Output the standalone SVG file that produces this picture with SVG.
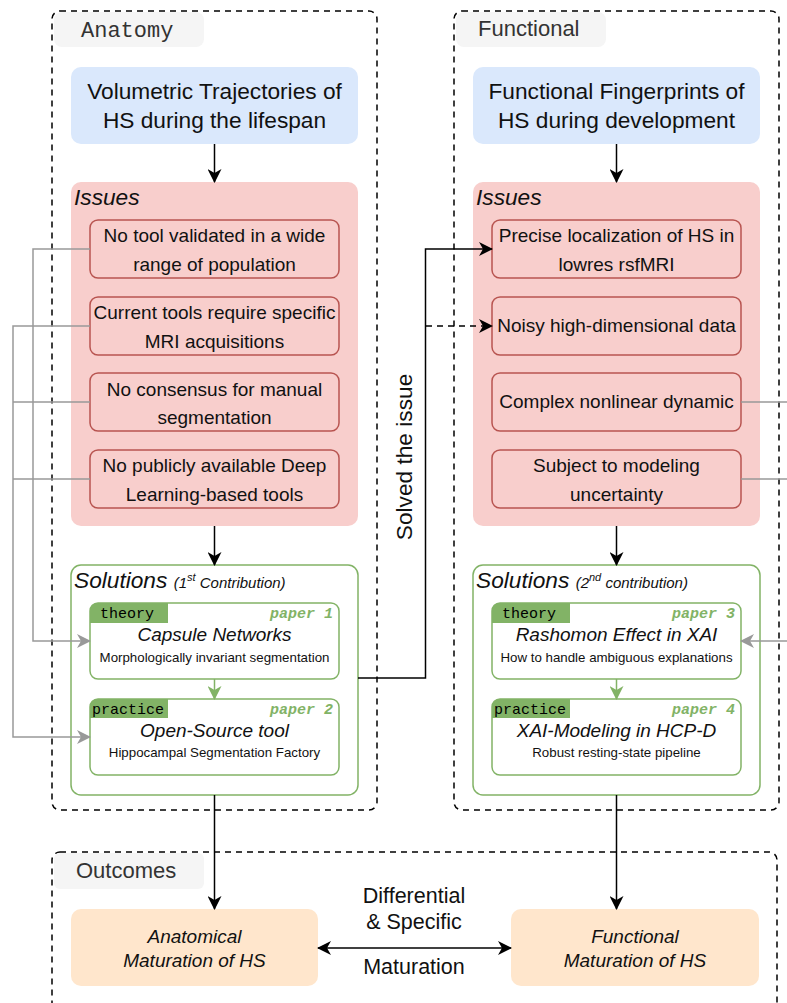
<svg xmlns="http://www.w3.org/2000/svg" width="787" height="1003" viewBox="0 0 787 1003">
  <style>
    .sans { font-family: "Liberation Sans", Arial, sans-serif; }
    .mono { font-family: "Liberation Mono", "Courier New", monospace; }
    .container { fill: none; stroke: #000; stroke-width: 1.5; stroke-dasharray: 6 5; }
    .tab { fill: #f5f5f5; }
    .tabtext { font-size: 22px; fill: #333; }
    .topic { fill: #dae8fc; }
    .issues { fill: #f8cecc; }
    .issue { fill: #f8cecc; stroke: #b85450; stroke-width: 1.5; }
    .sol { fill: #fff; stroke: #82b366; stroke-width: 1.5; }
    .tag { fill: #82b366; }
    .tagtext { font-size: 15px; fill: #000; }
    .paper { font-size: 15px; font-weight: bold; font-style: italic; fill: #82b366; }
    .outcome { fill: #ffe6cc; }
    .big { font-size: 22.7px; fill: #111; }
    .label { font-size: 21.5px; fill: #111; }
    .mid { font-size: 19px; fill: #111; }
    .small { font-size: 13.3px; fill: #111; }
    .it { font-style: italic; }
    .c { text-anchor: middle; }
    .link { fill: none; stroke: #000; stroke-width: 1.5; }
    .glink { fill: none; stroke: #999; stroke-width: 1.5; }
    .greenlink { fill: none; stroke: #82b366; stroke-width: 1.5; }
  </style>
  <defs>
    <marker id="arrow" markerUnits="userSpaceOnUse" viewBox="0 0 14 14" markerWidth="14" markerHeight="14" refX="13" refY="7" orient="auto-start-reverse">
      <path d="M0,0 L14,7 L0,14 L4,7 Z" fill="#000"/>
    </marker>
    <marker id="arrow-gray" markerUnits="userSpaceOnUse" viewBox="0 0 14 14" markerWidth="14" markerHeight="14" refX="13" refY="7" orient="auto">
      <path d="M0,0 L14,7 L0,14 L4,7 Z" fill="#999"/>
    </marker>
    <marker id="arrow-green" markerUnits="userSpaceOnUse" viewBox="0 0 14 14" markerWidth="14" markerHeight="14" refX="13" refY="7" orient="auto">
      <path d="M0,0 L14,7 L0,14 L4,7 Z" fill="#82b366"/>
    </marker>
  </defs>

  <!-- containers -->
  <g id="anatomy-container">
    <rect class="container" x="52" y="11" width="325" height="799" rx="8"/>
    <rect class="tab" x="54" y="12" width="150" height="35" rx="8"/>
    <text class="mono tabtext" x="81" y="37">Anatomy</text>
  </g>
  <g id="functional-container">
    <rect class="container" x="454" y="11" width="325" height="799" rx="8"/>
    <rect class="tab" x="456" y="12" width="150" height="35" rx="8"/>
    <text class="sans tabtext" x="478" y="36">Functional</text>
  </g>
  <g id="outcomes-container">
    <rect class="container" x="52" y="852" width="725" height="170" rx="8"/>
    <rect class="tab" x="54" y="853" width="150" height="36" rx="6"/>
    <text class="sans tabtext" x="76" y="878">Outcomes</text>
  </g>

  <!-- topics -->
  <g id="topic-anatomy">
    <rect class="topic" x="71" y="67" width="287" height="77" rx="10"/>
    <text class="sans big c" x="214.5" y="99">Volumetric Trajectories of</text>
    <text class="sans big c" x="214.5" y="128">HS during the lifespan</text>
  </g>
  <g id="topic-functional">
    <rect class="topic" x="473" y="67" width="287" height="77" rx="10"/>
    <text class="sans big c" x="616.5" y="99">Functional Fingerprints of</text>
    <text class="sans big c" x="616.5" y="128">HS during development</text>
  </g>

  <!-- issue groups -->
  <g id="issues-anatomy">
    <rect class="issues" x="71" y="182" width="287" height="344" rx="10"/>
    <text class="sans big it" x="74" y="205">Issues</text>
  </g>
  <g id="issues-functional">
    <rect class="issues" x="473" y="182" width="287" height="344" rx="10"/>
    <text class="sans big it" x="476" y="205">Issues</text>
  </g>

  <g id="issue-a1">
    <rect class="issue" x="90" y="220" width="249" height="58" rx="8"/>
    <text class="sans mid c" x="214.5" y="242">No tool validated in a wide</text>
    <text class="sans mid c" x="214.5" y="271">range of population</text>
  </g>
  <g id="issue-a2">
    <rect class="issue" x="90" y="297" width="249" height="58" rx="8"/>
    <text class="sans mid c" x="214.5" y="319">Current tools require specific</text>
    <text class="sans mid c" x="214.5" y="348">MRI acquisitions</text>
  </g>
  <g id="issue-a3">
    <rect class="issue" x="90" y="373" width="249" height="58" rx="8"/>
    <text class="sans mid c" x="214.5" y="396">No consensus for manual</text>
    <text class="sans mid c" x="214.5" y="424">segmentation</text>
  </g>
  <g id="issue-a4">
    <rect class="issue" x="90" y="450" width="249" height="58" rx="8"/>
    <text class="sans mid c" x="214.5" y="472">No publicly available Deep</text>
    <text class="sans mid c" x="214.5" y="501">Learning-based tools</text>
  </g>

  <g id="issue-f1">
    <rect class="issue" x="492" y="220" width="249" height="58" rx="8"/>
    <text class="sans mid c" x="616.5" y="242">Precise localization of HS in</text>
    <text class="sans mid c" x="616.5" y="271">lowres rsfMRI</text>
  </g>
  <g id="issue-f2">
    <rect class="issue" x="492" y="297" width="249" height="58" rx="8"/>
    <text class="sans mid c" x="616.5" y="332">Noisy high-dimensional data</text>
  </g>
  <g id="issue-f3">
    <rect class="issue" x="492" y="373" width="249" height="58" rx="8"/>
    <text class="sans mid c" x="616.5" y="408">Complex nonlinear dynamic</text>
  </g>
  <g id="issue-f4">
    <rect class="issue" x="492" y="450" width="249" height="58" rx="8"/>
    <text class="sans mid c" x="616.5" y="472">Subject to modeling</text>
    <text class="sans mid c" x="616.5" y="501">uncertainty</text>
  </g>

  <!-- solution groups -->
  <g id="solutions-anatomy">
    <rect class="sol" x="71" y="565" width="287" height="230" rx="10"/>
    <text class="sans it" x="74" y="588"><tspan class="big">Solutions </tspan><tspan font-size="15px" fill="#111">(1</tspan><tspan font-size="11px" fill="#111" dy="-7">st</tspan><tspan font-size="15px" fill="#111" dy="7"> Contribution)</tspan></text>
  </g>
  <g id="solutions-functional">
    <rect class="sol" x="473" y="565" width="287" height="230" rx="10"/>
    <text class="sans it" x="476" y="588"><tspan class="big">Solutions </tspan><tspan font-size="15px" fill="#111">(2</tspan><tspan font-size="11px" fill="#111" dy="-7">nd</tspan><tspan font-size="15px" fill="#111" dy="7"> contribution)</tspan></text>
  </g>

  <g id="paper-1">
    <rect class="sol" x="90" y="603" width="249" height="76" rx="8"/>
    <path class="tag" d="M90,623 V611 A8,8 0 0 1 98,603 H168 V623 Z"/>
    <text class="mono tagtext" x="100" y="618">theory</text>
    <text class="mono paper" x="333" y="618" text-anchor="end">paper 1</text>
    <text class="sans mid it c" x="214.5" y="641">Capsule Networks</text>
    <text class="sans small c" x="214.5" y="662">Morphologically invariant segmentation</text>
  </g>
  <g id="paper-2">
    <rect class="sol" x="90" y="699" width="249" height="76" rx="8"/>
    <path class="tag" d="M90,718 V707 A8,8 0 0 1 98,699 H168 V718 Z"/>
    <text class="mono tagtext" x="92" y="714">practice</text>
    <text class="mono paper" x="333" y="714" text-anchor="end">paper 2</text>
    <text class="sans mid it c" x="214.5" y="737">Open-Source tool</text>
    <text class="sans small c" x="214.5" y="757">Hippocampal Segmentation Factory</text>
  </g>
  <g id="paper-3">
    <rect class="sol" x="492" y="603" width="249" height="76" rx="8"/>
    <path class="tag" d="M492,623 V611 A8,8 0 0 1 500,603 H570 V623 Z"/>
    <text class="mono tagtext" x="502" y="618">theory</text>
    <text class="mono paper" x="735" y="618" text-anchor="end">paper 3</text>
    <text class="sans mid it c" x="616.5" y="641">Rashomon Effect in XAI</text>
    <text class="sans small c" x="616.5" y="662">How to handle ambiguous explanations</text>
  </g>
  <g id="paper-4">
    <rect class="sol" x="492" y="699" width="249" height="76" rx="8"/>
    <path class="tag" d="M492,718 V707 A8,8 0 0 1 500,699 H570 V718 Z"/>
    <text class="mono tagtext" x="494" y="714">practice</text>
    <text class="mono paper" x="735" y="714" text-anchor="end">paper 4</text>
    <text class="sans mid it c" x="616.5" y="737">XAI-Modeling in HCP-D</text>
    <text class="sans small c" x="616.5" y="757">Robust resting-state pipeline</text>
  </g>

  <!-- outcomes -->
  <g id="outcome-anatomical">
    <rect class="outcome" x="71" y="909" width="247" height="77" rx="10"/>
    <text class="sans mid it c" x="194.5" y="943">Anatomical</text>
    <text class="sans mid it c" x="194.5" y="967">Maturation of HS</text>
  </g>
  <g id="outcome-functional">
    <rect class="outcome" x="511" y="909" width="248" height="77" rx="10"/>
    <text class="sans mid it c" x="635" y="943">Functional</text>
    <text class="sans mid it c" x="635" y="967">Maturation of HS</text>
  </g>

  <!-- connectors -->
  <g id="connectors">
    <path class="link" d="M214.5,144 V182" marker-end="url(#arrow)"/>
    <path class="link" d="M616.5,144 V182" marker-end="url(#arrow)"/>
    <path class="link" d="M214.5,526 V565" marker-end="url(#arrow)"/>
    <path class="link" d="M616.5,526 V565" marker-end="url(#arrow)"/>
    <path class="link" d="M214.5,795 V909" marker-end="url(#arrow)"/>
    <path class="link" d="M616.5,795 V909" marker-end="url(#arrow)"/>
    <path class="link" d="M318,948 H511" marker-start="url(#arrow)" marker-end="url(#arrow)"/>

    <path class="greenlink" d="M214.5,679 V699" marker-end="url(#arrow-green)"/>
    <path class="greenlink" d="M616.5,679 V699" marker-end="url(#arrow-green)"/>

    <!-- anatomy issues to anatomy solutions -->
    <path class="glink" d="M90,249 H33 V641 H90" marker-end="url(#arrow-gray)"/>
    <path class="glink" d="M90,326 H13 V737 H90" marker-end="url(#arrow-gray)"/>
    <path class="glink" d="M90,402 H13"/>
    <path class="glink" d="M90,479 H13"/>

    <!-- functional issues routed off the right edge -->
    <path class="glink" d="M741,402 H790"/>
    <path class="glink" d="M741,479 H790"/>
    <path class="glink" d="M790,641 H741" marker-end="url(#arrow-gray)"/>

    <!-- capsule solution feeding functional issues -->
    <path class="link" d="M358,678 H425.5 V249 H492" marker-end="url(#arrow)"/>
    <path class="link" d="M426,326 H492" stroke-dasharray="6 5" marker-end="url(#arrow)"/>
    <text class="sans big c" transform="translate(412,457) rotate(-90)">Solved the issue</text>

    <text class="sans label c" x="414" y="903">Differential</text>
    <text class="sans label c" x="414" y="929">&amp; Specific</text>
    <text class="sans label c" x="414" y="974">Maturation</text>
  </g>
</svg>
